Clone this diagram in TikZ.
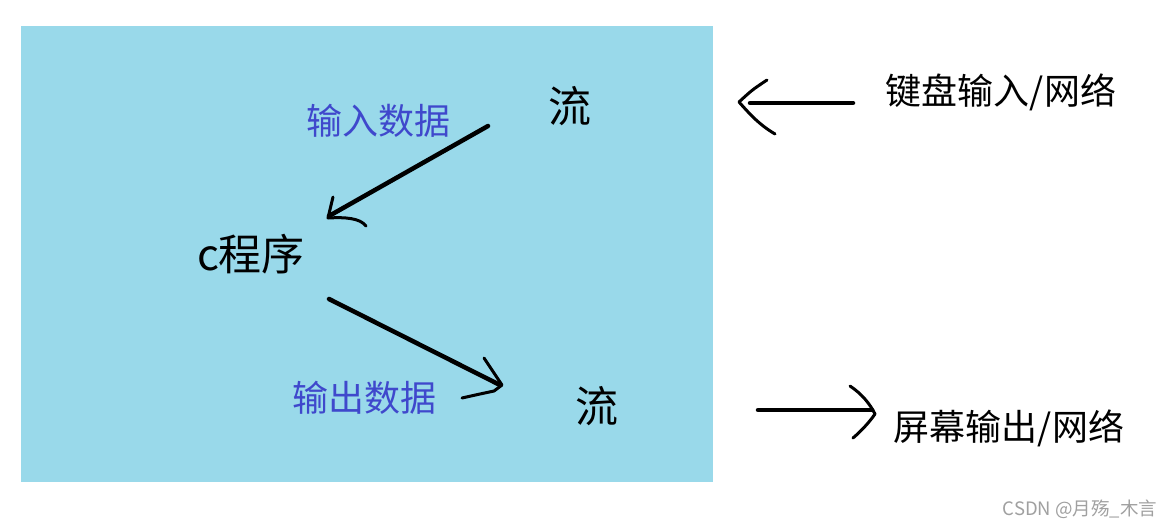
\documentclass[tikz,border=0pt]{standalone}
\usepackage{fontspec}
\setmainfont{Noto Sans CJK SC}
\newfontfamily\cjk{Noto Sans CJK SC}
\definecolor{paintblue}{HTML}{99D9EA}
\definecolor{labelblue}{HTML}{3F48CC}
\definecolor{wm}{HTML}{A0A0A0}
\begin{document}
\begin{tikzpicture}[x=1pt,y=-1pt,
  big/.style={font=\cjk\fontsize{43}{43}\selectfont, text=black, inner sep=0pt},
  side/.style={font=\cjk\fontsize{36}{36}\selectfont, text=black, inner sep=0pt},
  lbl/.style={font=\cjk\fontsize{36}{36}\selectfont, text=labelblue, inner sep=0pt},
  pen/.style={line width=4.5pt, line cap=round, line join=round, black},
  headpen/.style={line width=3pt, line cap=round, line join=round, black}]
\useasboundingbox (0,0) rectangle (1173,528);
\fill[white] (0,0) rectangle (1173,528);
\fill[paintblue] (21,26) rectangle (713,482);

\node[big] (stream1) at (570,106) {流};
\node[big] (prog) at (251,254) {c程序};
\node[big] (stream2) at (597,406) {流};
\node[lbl] (inlbl) at (378,121) {输入数据};
\node[lbl] (outlbl) at (364,398) {输出数据};
\node[side] (kbd) at (1001,92) {键盘输入/网络};
\node[side] (scr) at (1009,428) {屏幕输出/网络};
\node[font=\cjk\fontsize{18.5}{18.5}\selectfont, text=wm, inner sep=0pt] (wmark) at (1080,509) {CSDN @月殇\_木言};

% arrow from keyboard to stream
\coordinate (a1s) at (853,103);
\coordinate (a1e) at (750,103);
\draw[pen] (a1s) -- (a1e);
\draw[headpen] (767,80) .. controls (752,90) .. (739,102) .. controls (748,112) and (758,124) .. (775,134);

% arrow stream -> program (input)
\coordinate (a2s) at (488,126);
\coordinate (a2e) at (329,216);
\draw[pen] (a2s) -- (a2e);
\draw[headpen] (333,197) -- (328,218) .. controls (345,217) and (360,218) .. (366,226);

% arrow program -> stream (output)
\coordinate (a3s) at (329,299);
\coordinate (a3e) at (500,385);
\draw[pen] (a3s) -- (a3e);
\draw[headpen] (484,358) -- (502,385) -- (494,391) -- (480,394) -- (462,398);

% arrow stream -> screen
\coordinate (a4s) at (758,410);
\coordinate (a4e) at (872,410);
\draw[pen] (a4s) -- (a4e);
\draw[headpen] (850,386) .. controls (862,394) and (870,404) .. (875,414) .. controls (868,424) and (860,432) .. (853,438);
\end{tikzpicture}
\end{document}
